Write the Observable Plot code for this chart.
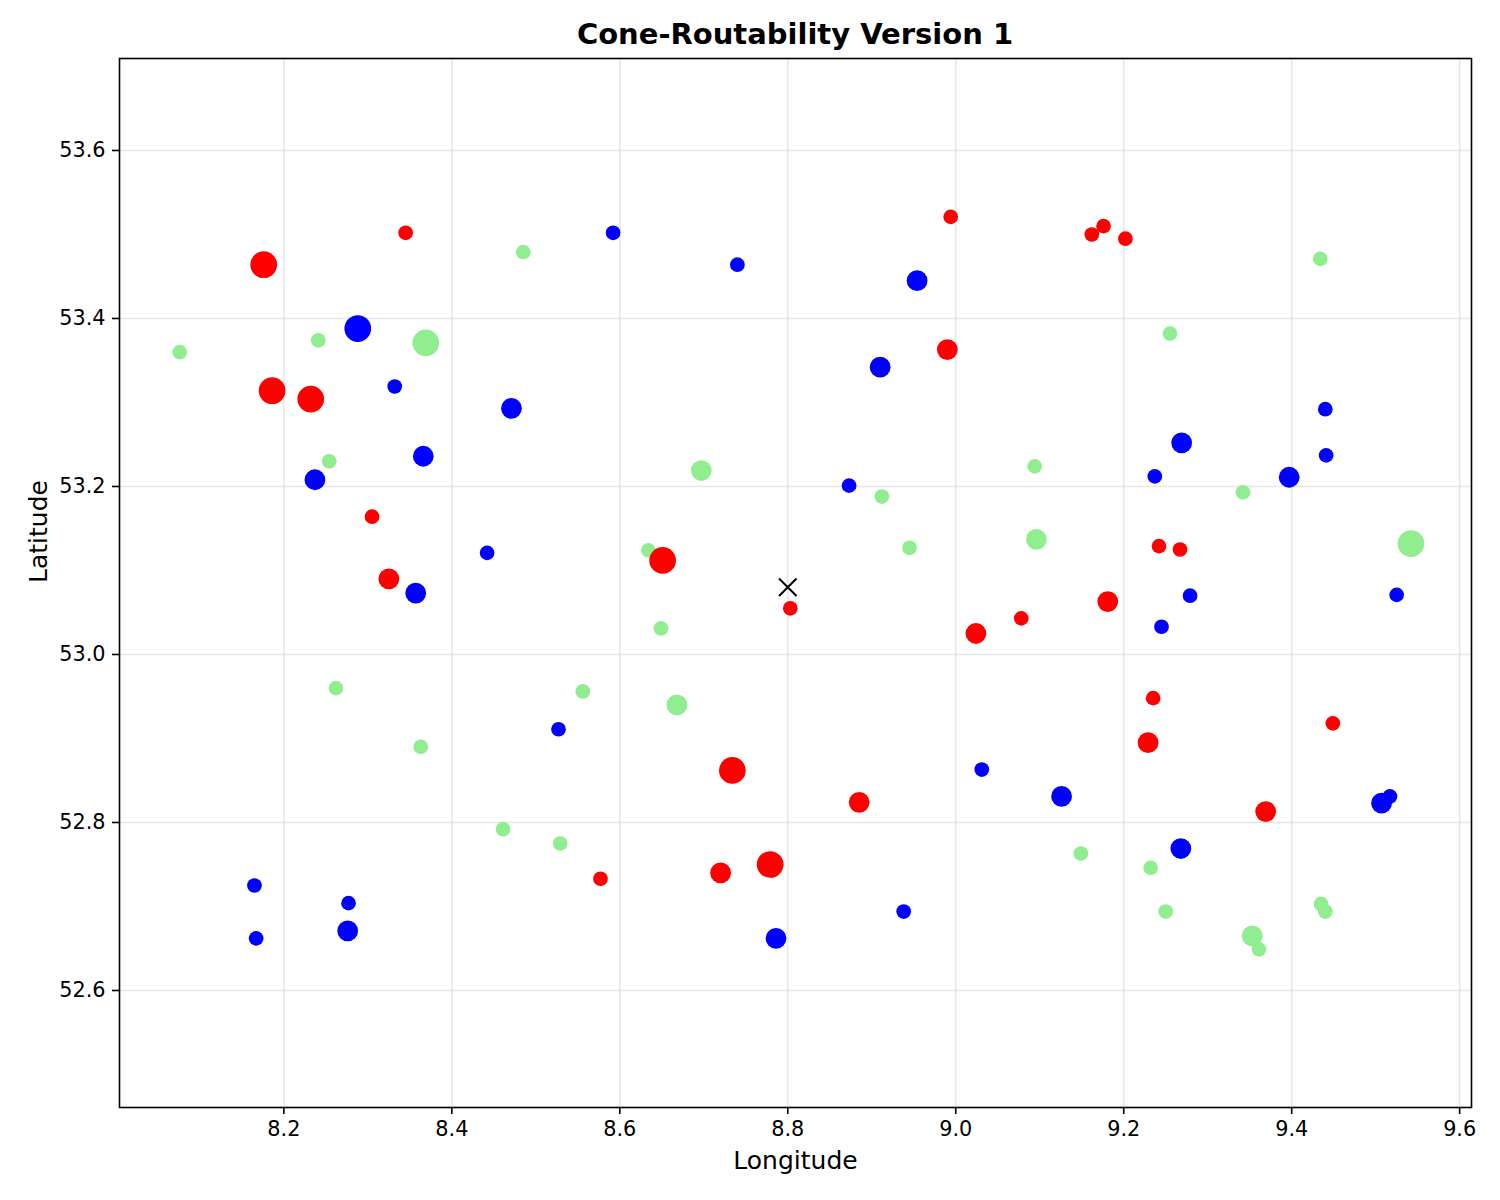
<!DOCTYPE html>
<html><head><meta charset="utf-8">
<script src="https://cdn.jsdelivr.net/npm/d3@7"></script>
<script src="https://cdn.jsdelivr.net/npm/@observablehq/plot@0.6"></script>
<style>
body{margin:0;background:#fff;font-family:"DejaVu Sans",sans-serif;overflow:hidden;}
#title{position:relative;height:50px;width:1500px;}
#title span{position:absolute;left:795px;transform:translateX(-50%);white-space:nowrap;top:20px;font-weight:bold;font-size:29px;line-height:1;color:#000;}
</style></head><body>
<div id="title"><span>Cone-Routability Version 1</span></div>
<div id="chart"></div>
<script>
// Red points
const redLon  = [8.176, 8.345, 8.186, 8.232, 8.305, 8.325, 8.651, 8.803, 8.994, 8.990, 9.162, 9.176, 9.202, 9.242, 9.267, 9.181, 9.078, 9.024, 9.235, 9.229, 9.449, 9.369, 8.734, 8.885, 8.779, 8.720, 8.577];
const redLat  = [53.464, 53.502, 53.314, 53.304, 53.164, 53.090, 53.112, 53.055, 53.521, 53.363, 53.500, 53.510, 53.495, 53.129, 53.125, 53.063, 53.043, 53.025, 52.948, 52.895, 52.918, 52.813, 52.862, 52.824, 52.750, 52.740, 52.733];
const redSize = [165, 50, 165, 165, 50, 100, 165, 50, 50, 100, 50, 50, 50, 50, 50, 100, 50, 100, 50, 100, 50, 100, 165, 100, 165, 100, 50];
// Blue points
const blueLon  = [8.592, 8.740, 8.288, 8.332, 8.471, 8.366, 8.237, 8.442, 8.357, 8.954, 8.910, 8.873, 9.440, 9.269, 9.441, 9.237, 9.397, 9.525, 9.279, 9.245, 8.527, 9.031, 9.126, 9.507, 9.517, 9.268, 8.786, 8.938, 8.165, 8.167, 8.277, 8.276];
const blueLat  = [53.502, 53.464, 53.388, 53.319, 53.293, 53.236, 53.208, 53.121, 53.073, 53.445, 53.342, 53.201, 53.292, 53.252, 53.237, 53.212, 53.211, 53.071, 53.070, 53.033, 52.911, 52.863, 52.831, 52.823, 52.831, 52.769, 52.662, 52.694, 52.725, 52.662, 52.704, 52.671];
const blueSize = [50, 50, 165, 50, 100, 100, 100, 50, 100, 100, 100, 50, 50, 100, 50, 50, 100, 50, 50, 50, 50, 50, 100, 100, 50, 100, 100, 50, 50, 50, 50, 100];
// Green points
const greenLon  = [8.076, 8.241, 8.369, 8.485, 8.254, 8.697, 8.634, 8.649, 8.912, 8.945, 9.094, 9.096, 9.255, 9.434, 9.342, 9.542, 8.262, 8.556, 8.668, 8.363, 8.461, 8.529, 9.149, 9.232, 9.250, 9.353, 9.361, 9.435, 9.440];
const greenLat  = [53.360, 53.374, 53.371, 53.479, 53.230, 53.219, 53.124, 53.031, 53.188, 53.127, 53.224, 53.137, 53.382, 53.471, 53.193, 53.132, 52.960, 52.956, 52.940, 52.890, 52.792, 52.775, 52.763, 52.746, 52.694, 52.665, 52.649, 52.703, 52.694];
const greenSize = [50, 50, 165, 50, 50, 100, 50, 50, 50, 50, 50, 100, 50, 50, 50, 165, 50, 50, 100, 50, 50, 50, 50, 50, 50, 100, 50, 50, 50];
// Center marker
const centerLon = [8.8];
const centerLat = [53.08];
// Ticks
const xTicks = [8.2, 8.4, 8.6, 8.8, 9.0, 9.2, 9.4, 9.6];
const yTicks = [52.6, 52.8, 53.0, 53.2, 53.4, 53.6];
const xLabel = "Longitude";
const yLabel = "Latitude";

const toRows = (lon, lat, size) => lon.map((d, i) => ({lon: d, lat: lat[i], size: size ? size[i] : null}));
const red = toRows(redLon, redLat, redSize);
const blue = toRows(blueLon, blueLat, blueSize);
const green = toRows(greenLon, greenLat, greenSize);
const center = toRows(centerLon, centerLat);

const fmt = d3.format(".1f");
const chart = Plot.plot({
  width: 1500, height: 1150,
  marginTop: 8, marginBottom: 93, marginLeft: 119, marginRight: 29,
  style: {fontFamily: "DejaVu Sans", background: "#fff", color: "black"},
  x: {domain: [8.0043, 9.6141]},
  y: {domain: [52.4607, 53.7095]},
  r: {type: "sqrt", domain: [0, 165], range: [0, 13.35]},
  marks: [
    Plot.gridX(xTicks, {stroke: "#b0b0b0", strokeOpacity: 0.3, strokeWidth: 1.6}),
    Plot.gridY(yTicks, {stroke: "#b0b0b0", strokeOpacity: 0.3, strokeWidth: 1.6}),
    Plot.dot(green, {x: "lon", y: "lat", r: "size", fill: "lightgreen"}),
    Plot.dot(blue, {x: "lon", y: "lat", r: "size", fill: "blue"}),
    Plot.dot(red, {x: "lon", y: "lat", r: "size", fill: "red"}),
    Plot.dot(center, {x: "lon", y: "lat", r: 8, symbol: d3.symbolTimes || "times", fill: "none", stroke: "black", strokeWidth: 2}),
    Plot.axisX(xTicks, {tickFormat: fmt, tickSize: 7, tickPadding: 7, fontSize: 20.8, label: null, strokeWidth: 1.6}),
    Plot.axisY(yTicks, {tickFormat: fmt, tickSize: 7, tickPadding: 7, fontSize: 20.8, label: null, strokeWidth: 1.6}),
    Plot.frame({stroke: "black", strokeWidth: 1.6}),
    Plot.text([xLabel], {text: d => d, frameAnchor: "bottom", dy: 61, fontSize: 25, fill: "black"}),
    Plot.text([yLabel], {text: d => d, frameAnchor: "left", dx: -81, rotate: -90, fontSize: 25, fill: "black"})
  ]
});
document.getElementById("chart").appendChild(chart);
</script>
</body></html>
